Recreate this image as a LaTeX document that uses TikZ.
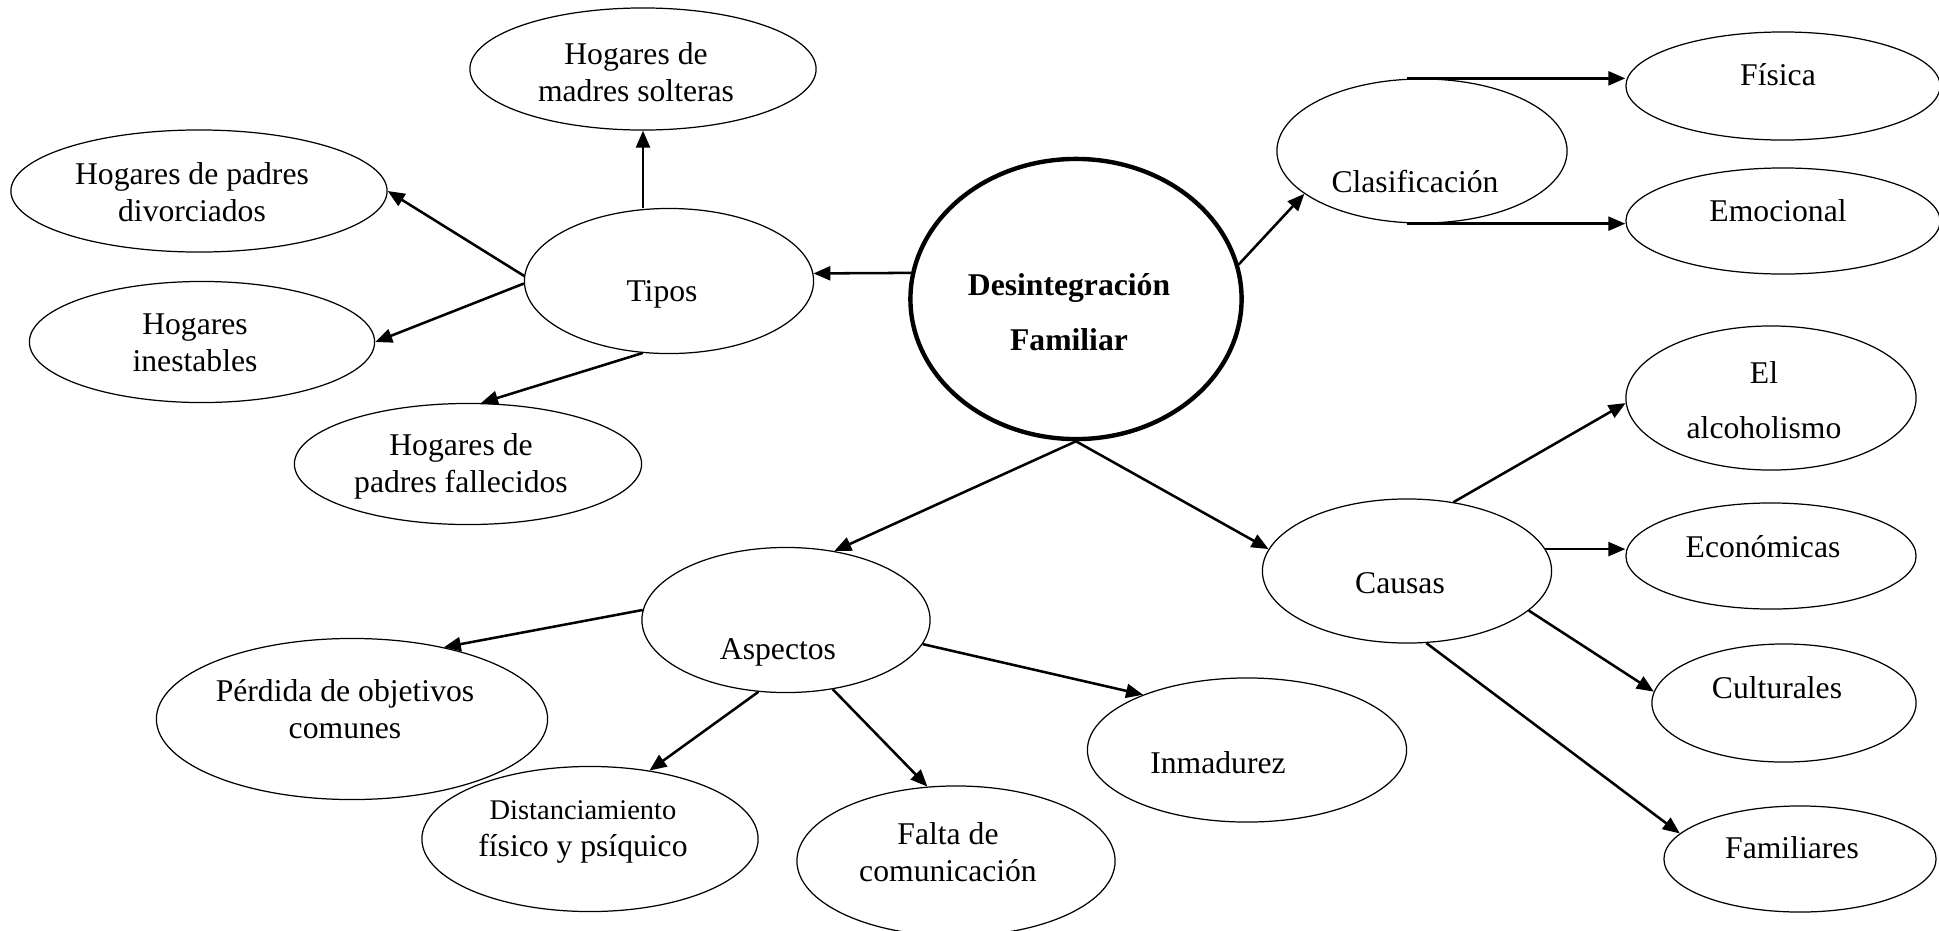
\documentclass[tikz,border=0pt]{standalone}
\usepackage{fontspec}
\setmainfont{Liberation Serif}
\usetikzlibrary{shapes.geometric, arrows.meta}

\begin{document}
\begin{tikzpicture}[x=0.01cm, y=-0.01cm,
    font=\fontsize{9}{10.5}\selectfont,
    bubble/.style={draw, ellipse, line width=0.35pt, inner sep=0pt},
    txt/.style={align=center, inner sep=0pt},
    link/.style={line width=0.72pt, -{Triangle[length=0.17cm, width=0.14cm]}}]
    \useasboundingbox (0,0) rectangle (1939,930);

    % centro
    \node[bubble, line width=1.25pt, minimum width=3.31cm, minimum height=2.80cm] (des) at (1076,299) {};
    \node[txt, font=\fontsize{9}{15.6}\selectfont\bfseries] (des-t) at (1069,312) {Desintegración\\Familiar};

    % tipos
    \node[bubble, minimum width=2.89cm, minimum height=1.45cm] (tipos) at (669,281) {};
    \node[txt] (tipos-t) at (662,294) {Tipos};
    \node[bubble, minimum width=3.46cm, minimum height=1.22cm] (madres) at (643,69) {};
    \node[txt] (madres-t) at (636,72) {Hogares de\\madres solteras};
    \node[bubble, minimum width=3.76cm, minimum height=1.22cm] (divor) at (199,191) {};
    \node[txt] (divor-t) at (192,192) {Hogares de padres\\divorciados};
    \node[bubble, minimum width=3.45cm, minimum height=1.21cm] (inest) at (202,342) {};
    \node[txt] (inest-t) at (195,343) {Hogares\\inestables};
    \node[bubble, minimum width=3.47cm, minimum height=1.21cm] (falle) at (468,464) {};
    \node[txt] (falle-t) at (461,466) {Hogares de\\padres fallecidos};

    % clasificacion
    \node[bubble, minimum width=2.90cm, minimum height=1.44cm] (clas) at (1422,151) {};
    \node[txt] (clas-t) at (1415,182) {Clasificación};
    \node[bubble, minimum width=3.14cm, minimum height=1.08cm] (fis) at (1783,86) {};
    \node[txt] (fis-t) at (1778,75) {Física};
    \node[bubble, minimum width=3.14cm, minimum height=1.06cm] (emo) at (1783,221) {};
    \node[txt] (emo-t) at (1778,211) {Emocional};

    % causas
    \node[bubble, minimum width=2.89cm, minimum height=1.44cm] (cau) at (1407,571) {};
    \node[txt] (cau-t) at (1400,583) {Causas};
    \node[bubble, minimum width=2.90cm, minimum height=1.44cm] (alc) at (1771,398) {};
    \node[txt, font=\fontsize{9}{15.6}\selectfont] (alc-t) at (1764,400) {El\\alcoholismo};
    \node[bubble, minimum width=2.90cm, minimum height=1.06cm] (eco) at (1771,556) {};
    \node[txt] (eco-t) at (1763,547) {Económicas};
    \node[bubble, minimum width=2.64cm, minimum height=1.18cm] (cul) at (1784,703) {};
    \node[txt] (cul-t) at (1777,688) {Culturales};
    \node[bubble, minimum width=2.72cm, minimum height=1.06cm] (fam) at (1800,859) {};
    \node[txt] (fam-t) at (1792,848) {Familiares};

    % aspectos
    \node[bubble, minimum width=2.88cm, minimum height=1.45cm] (asp) at (786,620) {};
    \node[txt] (asp-t) at (778,652) {Aspectos};
    \node[bubble, minimum width=3.91cm, minimum height=1.61cm] (perd) at (352,719) {};
    \node[txt] (perd-t) at (345,709) {Pérdida de objetivos\\comunes};
    \node[bubble, minimum width=3.36cm, minimum height=1.45cm] (dist) at (590,839) {};
    \node[txt] (dist-t) at (583,832) {{\fontsize{8.1}{10.5}\selectfont Distanciamiento}\\físico y psíquico};
    \node[bubble, minimum width=3.18cm, minimum height=1.50cm] (falta) at (956,861) {};
    \node[txt] (falta-t) at (948,852) {Falta de\\comunicación};
    \node[bubble, minimum width=3.19cm, minimum height=1.44cm] (inm) at (1247,750) {};
    \node[txt] (inm-t) at (1218,763) {Inmadurez};

    % flechas
    \draw[link] (des.171) -- (tipos.3);
    \draw[link] (madres.south |- tipos.north) -- (madres.south);
    \draw[link] (tipos.178) -- (divor.east);
    \draw[link] (tipos.181) -- (inest.east);
    \draw[link] (tipos.250) -- (falle.78);

    \draw[link] (des.12) -- (clas.200);
    \draw[link] ([xshift=-0.15cm]clas.north) -- (clas.north -| fis.west);
    \draw[link] ([xshift=-0.15cm]clas.south) -- (clas.south -| emo.west);

    \draw[link] (des.south) -- (cau.171);
    \draw[link] (cau.56) -- (alc.182);
    \draw[link] (cau.9) -- (cau.9 -| eco.west);
    \draw[link] (cau.342) -- (cul.175);
    \draw[link] (cau.285) -- (fam.168);

    \draw[link] (des.south) -- (asp.55);
    \draw[link] (asp.176) -- (perd.38);
    \draw[link] (asp.249) -- (dist.49);
    \draw[link] (asp.304) -- (falta.111);
    \draw[link] (asp.350) -- (inm.152);
\end{tikzpicture}
\end{document}
